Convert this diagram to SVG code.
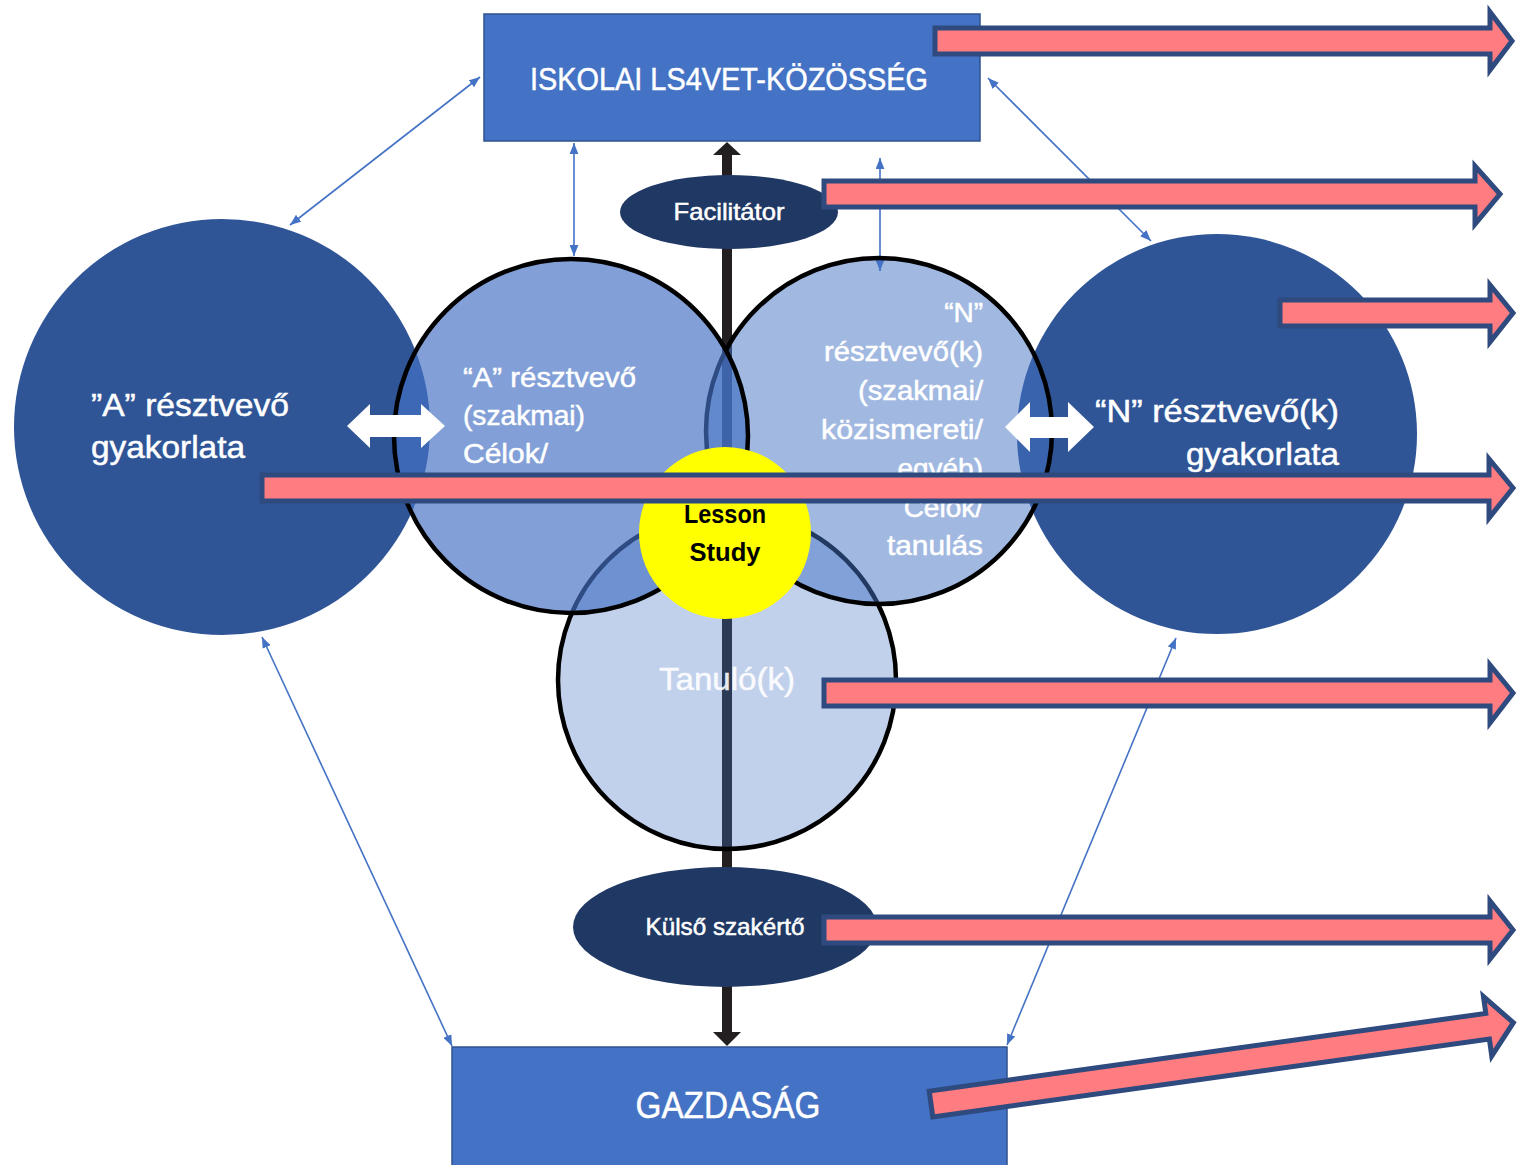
<svg xmlns="http://www.w3.org/2000/svg" width="1517" height="1165" viewBox="0 0 1517 1165">
<style>
text { font-family: "Liberation Sans", Arial, sans-serif; }
.w { fill: #FFFFFF; stroke: #FFFFFF; stroke-width: 0.5; }
.box { fill: #4472C4; stroke: #2F528F; stroke-width: 1.5; }
.big { fill: #2F5597; }
.ring { fill: #4472C4; stroke: #000000; stroke-width: 4.5; }
.ell { fill: #203864; }
.conn { stroke: #4472C4; stroke-width: 1.6; fill: none; marker-start: url(#tri); marker-end: url(#tri); }
.pink { fill: #FF7C80; stroke: #2E4A7E; stroke-width: 5; stroke-linejoin: miter; }
.dbl { fill: #FFFFFF; }
</style>
<defs>
<marker id="tri" viewBox="0 0 10 8" refX="10" refY="4" markerWidth="11" markerHeight="9" markerUnits="userSpaceOnUse" orient="auto-start-reverse">
<path d="M0,0 L10,4 L0,8 z" fill="#4472C4"/>
</marker>
</defs>
<rect width="1517" height="1165" fill="#FFFFFF"/>

<g id="connectors">
<line class="conn" x1="480" y1="77" x2="290" y2="225"/>
<line class="conn" x1="574" y1="143" x2="574" y2="256"/>
<line class="conn" x1="880" y1="158" x2="880" y2="271"/>
<line class="conn" x1="988" y1="78" x2="1151" y2="241"/>
<line class="conn" x1="262" y1="637" x2="452" y2="1046"/>
<line class="conn" x1="1176" y1="638" x2="1007" y2="1045"/>
<g id="vertical-arrow" fill="#231F20">
<rect x="722" y="152" width="10" height="882"/>
<polygon points="713,155 727,142 741,155"/>
<polygon points="713,1032 727,1046 741,1032"/>
</g>
</g>

<g id="node-iskolai">
<rect class="box" x="484" y="14" width="496" height="127"/>
<text class="w" x="729" y="90" font-size="32" text-anchor="middle" textLength="398" lengthAdjust="spacingAndGlyphs">ISKOLAI LS4VET-KÖZÖSSÉG</text>
</g>

<g id="node-gazdasag">
<rect class="box" x="452" y="1047" width="555" height="125"/>
<text class="w" x="728" y="1118" font-size="37" text-anchor="middle" textLength="185" lengthAdjust="spacingAndGlyphs">GAZDASÁG</text>
</g>

<g id="node-a-gyakorlata">
<circle class="big" cx="222" cy="427" r="208"/>
<text class="w" x="91" y="416" font-size="32" textLength="198" lengthAdjust="spacingAndGlyphs">”A” résztvevő</text>
<text class="w" x="91" y="458" font-size="32" textLength="154" lengthAdjust="spacingAndGlyphs">gyakorlata</text>
</g>

<g id="node-n-gyakorlata">
<circle class="big" cx="1217" cy="434" r="200"/>
<text class="w" x="1339" y="422" font-size="32" text-anchor="end" textLength="244" lengthAdjust="spacingAndGlyphs">“N” résztvevő(k)</text>
<text class="w" x="1339" y="465" font-size="32" text-anchor="end" textLength="153" lengthAdjust="spacingAndGlyphs">gyakorlata</text>
</g>

<g id="node-tanulo">
<circle class="ring" cx="727" cy="680" r="169" fill-opacity="0.33"/>
<text class="w" x="727" y="690" font-size="32" text-anchor="middle" textLength="136" lengthAdjust="spacingAndGlyphs" opacity="0.9">Tanuló(k)</text>
</g>

<g id="node-n-resztvevo">
<circle class="ring" cx="879" cy="431" r="173" fill-opacity="0.5"/>
<g class="w" font-size="28" text-anchor="end">
<text x="983" y="322">“N”</text>
<text x="983" y="361" textLength="159" lengthAdjust="spacingAndGlyphs">résztvevő(k)</text>
<text x="983" y="400" textLength="125" lengthAdjust="spacingAndGlyphs">(szakmai/</text>
<text x="983" y="439" textLength="162" lengthAdjust="spacingAndGlyphs">közismereti/</text>
<text x="983" y="478">egyéb)</text>
<text x="983" y="517">Célok/</text>
<text x="983" y="555" textLength="96" lengthAdjust="spacingAndGlyphs">tanulás</text>
</g>
</g>

<g id="node-a-resztvevo">
<circle class="ring" cx="571" cy="436" r="177" fill-opacity="0.67"/>
<g class="w" font-size="28">
<text x="463" y="387" textLength="173" lengthAdjust="spacingAndGlyphs">“A” résztvevő</text>
<text x="463" y="425" textLength="122" lengthAdjust="spacingAndGlyphs">(szakmai)</text>
<text x="463" y="463" textLength="85" lengthAdjust="spacingAndGlyphs">Célok/</text>
<text x="463" y="502">tanulás</text>
</g>
</g>

<g id="node-lesson-study">
<circle cx="725" cy="533" r="86" fill="#FFFF00"/>
<text x="725" y="523" font-size="25" font-weight="bold" text-anchor="middle" fill="#000000" textLength="82" lengthAdjust="spacingAndGlyphs">Lesson</text>
<text x="725" y="561" font-size="25" font-weight="bold" text-anchor="middle" fill="#000000" textLength="71" lengthAdjust="spacingAndGlyphs">Study</text>
</g>

<g id="node-facilitator">
<ellipse class="ell" cx="729" cy="212" rx="109" ry="37"/>
<text class="w" x="729" y="220" font-size="24" text-anchor="middle" textLength="111" lengthAdjust="spacingAndGlyphs">Facilitátor</text>
</g>

<g id="node-kulso">
<ellipse class="ell" cx="725" cy="927" rx="152" ry="60"/>
<text class="w" x="725" y="935" font-size="24" text-anchor="middle" textLength="159" lengthAdjust="spacingAndGlyphs">Külső szakértő</text>
</g>

<g id="double-arrows">
<polygon class="dbl" points="347,426 370,404 370,415 421,415 421,404 445,426 421,448 421,437 370,437 370,448"/>
<polygon class="dbl" points="1005,427 1030,402 1030,417 1068,417 1068,402 1094,427 1068,452 1068,438 1030,438 1030,452"/>
</g>

<g id="pink-arrows">
<polygon class="pink" points="935,28 1490,28 1490,12 1512,41 1490,70 1490,54 935,54"/>
<polygon class="pink" points="824,181 1475,181 1475,166 1500,194 1475,224 1475,207 824,207"/>
<polygon class="pink" points="1280,300 1490,300 1490,285 1513,313 1490,342 1490,326 1280,326"/>
<polygon class="pink" points="262,475 1489,475 1489,459 1513,488 1489,518 1489,501 262,501"/>
<polygon class="pink" points="824,680 1490,680 1490,665 1513,693 1490,723 1490,706 824,706"/>
<polygon class="pink" points="824,917 1490,917 1490,901 1513,930 1490,959 1490,943 824,943"/>
<polygon class="pink" transform="translate(931,1104) rotate(-7.95)" points="0,-13 562,-13 562,-30 588,0 562,30 562,13 0,13"/>
</g>
</svg>
